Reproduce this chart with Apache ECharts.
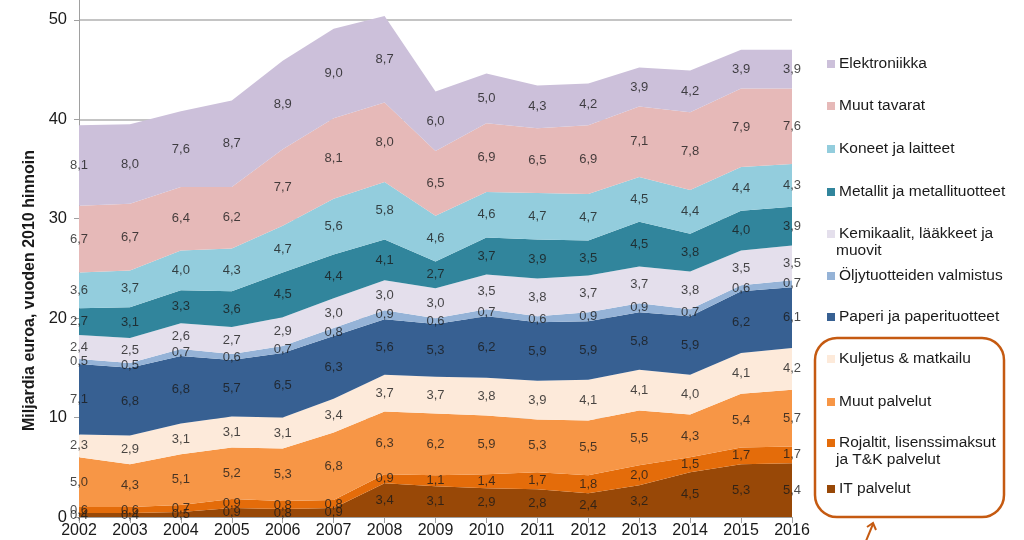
<!DOCTYPE html>
<html>
<head>
<meta charset="utf-8">
<script src="https://cdn.jsdelivr.net/npm/echarts@6/dist/echarts.min.js"></script>
<style>html,body{margin:0;padding:0;background:#fff;}#c{width:1024px;height:540px;}</style>
</head>
<body>
<div id="c"></div>
<script>
const years = ['2002','2003','2004','2005','2006','2007','2008','2009','2010','2011','2012','2013','2014','2015','2016'];
const itPalvelut = [0.4,0.4,0.5,0.9,0.8,0.9,3.4,3.1,2.9,2.8,2.4,3.2,4.5,5.3,5.4];
const rojaltit = [0.6,0.6,0.7,0.9,0.8,0.8,0.9,1.1,1.4,1.7,1.8,2.0,1.5,1.7,1.7];
const muutPalvelut = [5.0,4.3,5.1,5.2,5.3,6.8,6.3,6.2,5.9,5.3,5.5,5.5,4.3,5.4,5.7];
const kuljetus = [2.3,2.9,3.1,3.1,3.1,3.4,3.7,3.7,3.8,3.9,4.1,4.1,4.0,4.1,4.2];
const paperi = [7.1,6.8,6.8,5.7,6.5,6.3,5.6,5.3,6.2,5.9,5.9,5.8,5.9,6.2,6.1];
const oljy = [0.5,0.5,0.7,0.6,0.7,0.8,0.9,0.6,0.7,0.6,0.9,0.9,0.7,0.6,0.7];
const kemikaalit = [2.4,2.5,2.6,2.7,2.9,3.0,3.0,3.0,3.5,3.8,3.7,3.7,3.8,3.5,3.5];
const metallit = [2.7,3.1,3.3,3.6,4.5,4.4,4.1,2.7,3.7,3.9,3.5,4.5,3.8,4.0,3.9];
const koneet = [3.6,3.7,4.0,4.3,4.7,5.6,5.8,4.6,4.6,4.7,4.7,4.5,4.4,4.4,4.3];
const muutTavarat = [6.7,6.7,6.4,6.2,7.7,8.1,8.0,6.5,6.9,6.5,6.9,7.1,7.8,7.9,7.6];
const elektroniikka = [8.1,8.0,7.6,8.7,8.9,9.0,8.7,6.0,5.0,4.3,4.2,3.9,4.2,3.9,3.9];

const yTicks = [0,10,20,30,40,50];

// bottom-to-top stacking order
const bands = [
  {name:'IT palvelut', data:itPalvelut, color:'#984807'},
  {name:'Rojaltit, lisenssimaksut\nja T&K palvelut', data:rojaltit, color:'#e46c0a'},
  {name:'Muut palvelut', data:muutPalvelut, color:'#f79646'},
  {name:'Kuljetus & matkailu', data:kuljetus, color:'#fdeada'},
  {name:'Paperi ja paperituotteet', data:paperi, color:'#376092'},
  {name:'Öljytuotteiden valmistus', data:oljy, color:'#95b3d7'},
  {name:'Kemikaalit, lääkkeet ja\nmuovit', data:kemikaalit, color:'#e4dfec'},
  {name:'Metallit ja metallituotteet', data:metallit, color:'#31859c'},
  {name:'Koneet ja laitteet', data:koneet, color:'#93cddd'},
  {name:'Muut tavarat', data:muutTavarat, color:'#e6b9b8'},
  {name:'Elektroniikka', data:elektroniikka, color:'#ccc0da'}
];

const FONT = 'Liberation Sans, Arial, sans-serif';
const series = [];
const labelPts = [];
const cum = years.map(()=>0);
bands.forEach(b=>{
  series.push({
    name:b.name, type:'line', stack:'total', data:b.data,
    symbol:'none', lineStyle:{width:0}, areaStyle:{color:b.color, opacity:1},
    itemStyle:{color:b.color}, clip:false, silent:true
  });
  b.data.forEach((v,i)=>{
    labelPts.push([i, cum[i] + v/2, v]);
    cum[i] += v;
  });
});
series.push({
  type:'scatter', data:labelPts, symbolSize:0, z:10, silent:true,
  label:{show:true, position:'inside', fontSize:13, color:'#1a1a1a', fontFamily:FONT,
    formatter:p=>p.value[2].toFixed(1).replace('.',',')}
});

// legend entries (top to bottom) with y-centre of first line
const legendOrder = [
  ['Elektroniikka',62],['Muut tavarat',104],['Koneet ja laitteet',147],
  ['Metallit ja metallituotteet',190],['Kemikaalit, lääkkeet ja\nmuovit',232],
  ['Öljytuotteiden valmistus',274],['Paperi ja paperituotteet',315],
  ['Kuljetus & matkailu',357],['Muut palvelut',400],
  ['Rojaltit, lisenssimaksut\nja T&K palvelut',441],['IT palvelut',487]
];
const legends = legendOrder.map(([n,y])=>({
  data:[n], left:822, top:y-11, orient:'vertical', itemWidth:8, itemHeight:8, itemGap:0,
  icon:'rect', selectedMode:false,
  formatter:name=>name.split('\n')[0],
  textStyle:{fontSize:15.5, color:'#1a1a1a', fontFamily:FONT, padding:[0,0,0,-1]}
}));
const extraLines = legendOrder.filter(([n])=>n.indexOf('\n')>=0).map(([n,y])=>({
  type:'text', z:50, x:836, y:y+11,
  style:{text:n.split('\n')[1], fill:'#1a1a1a', fontSize:15.5, fontFamily:FONT,
    verticalAlign:'top', align:'left'}
}));

const chart = echarts.init(document.getElementById('c'));
chart.setOption({
  animation:false,
  backgroundColor:'#fff',
  grid:{left:79, right:232, top:0, bottom:23},
  legend:legends,
  xAxis:{type:'category', data:years, boundaryGap:false,
    axisLine:{show:true, lineStyle:{color:'#a0a0a0'}},
    axisTick:{show:true, alignWithLabel:true, length:6, lineStyle:{color:'#a0a0a0'}},
    axisLabel:{fontSize:16, color:'#1a1a1a', margin:6, fontFamily:FONT}},
  yAxis:{type:'value', min:0, max:52, interval:10,
    name:'Miljardia euroa, vuoden 2010 hinnoin', nameLocation:'middle', nameGap:40,
    nameTextStyle:{fontSize:16, fontWeight:'bold', color:'#1a1a1a', fontFamily:FONT, padding:[0,0,0,-64]},
    axisLine:{show:true, lineStyle:{color:'#a0a0a0'}},
    axisTick:{show:true, length:5, lineStyle:{color:'#a0a0a0'}},
    splitLine:{show:true, showMaxLine:false, lineStyle:{color:'#b0b0b0', width:1.5}},
    axisLabel:{fontSize:16.5, color:'#1a1a1a', margin:12, fontFamily:FONT,
      formatter:v=>yTicks.indexOf(v)>=0 ? String(v) : '', showMaxLabel:false}},
  series:series,
  graphic:[
    ...extraLines,
    {type:'rect', shape:{x:815, y:338, width:189, height:179, r:22},
      style:{fill:'none', stroke:'#c55a11', lineWidth:2.5}, z:100},
    {type:'line', shape:{x1:866, y1:541, x2:873, y2:524}, style:{stroke:'#c55a11', lineWidth:2}, z:100},
    {type:'polyline', shape:{points:[[867,527],[873,523],[876,530]]}, style:{stroke:'#c55a11', fill:'none', lineWidth:2}, z:100}
  ]
});
</script>
</body>
</html>
